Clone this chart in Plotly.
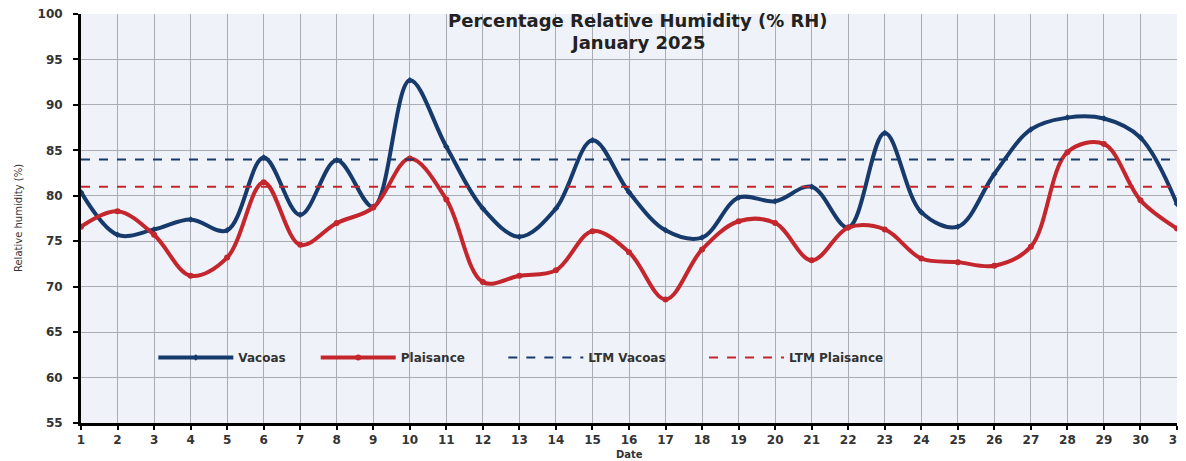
import plotly.graph_objects as go

days = list(range(1, 32))
vacoas = [80.4, 75.7, 76.3, 77.4, 76.2, 84.2, 77.9, 83.9, 78.8, 92.7,
          85.4, 78.6, 75.5, 78.6, 86.1, 80.4, 76.2, 75.4, 79.8, 79.4,
          81.0, 76.5, 86.9, 78.2, 76.6, 82.4, 87.3, 88.6, 88.5, 86.4, 79.1]
plaisance = [76.6, 78.3, 75.7, 71.2, 73.2, 81.5, 74.6, 77.0, 78.7, 84.1,
             79.6, 70.5, 71.2, 71.8, 76.1, 73.8, 68.6, 74.1, 77.2, 77.0,
             72.9, 76.5, 76.3, 73.1, 72.7, 72.3, 74.4, 84.8, 85.7, 79.5, 76.4]
ltm_vacoas = 84.0
ltm_plaisance = 81.0
series_names = ["Vacoas", "Plaisance", "LTM Vacoas", "LTM Plaisance"]
title_lines = ["Percentage Relative Humidity (% RH)", "January 2025"]

blue = "#173a6c"
red = "#c3262c"
font_fam = "DejaVu Sans, Verdana, sans-serif"
pad = "\u00a0"
legend_pad = [6, 8, 8, 0]

fig = go.Figure()
fig.add_trace(go.Scatter(x=days, y=vacoas, name=series_names[0] + pad * legend_pad[0], mode="lines+markers",
                         line=dict(color=blue, width=4, shape="spline", smoothing=1.0),
                         marker=dict(symbol="diamond", size=5, color=blue)))
fig.add_trace(go.Scatter(x=days, y=plaisance, name=series_names[1] + pad * legend_pad[1], mode="lines+markers",
                         line=dict(color=red, width=4, shape="spline", smoothing=1.0),
                         marker=dict(symbol="circle", size=6, color=red)))
fig.add_trace(go.Scatter(x=days, y=[ltm_vacoas] * len(days), name=series_names[2] + pad * legend_pad[2],
                         mode="lines", line=dict(color=blue, width=2, dash="dash")))
fig.add_trace(go.Scatter(x=days, y=[ltm_plaisance] * len(days), name=series_names[3] + pad * legend_pad[3],
                         mode="lines", line=dict(color=red, width=2, dash="dash")))

# page body has an 8px margin, so the figure is shrunk by 8px and margins reduced
fig.update_layout(
    width=1178, height=453,
    margin=dict(l=73, r=9, t=6, b=38, autoexpand=False),
    paper_bgcolor="white",
    plot_bgcolor="#eff3f9",
    font=dict(family=font_fam, color="#333333"),
    legend=dict(orientation="h", x=0.066, xanchor="left", y=0.16, yanchor="middle",
                bgcolor="rgba(0,0,0,0)", itemwidth=75,
                font=dict(size=12, color="#333333", weight="bold")),
    showlegend=True,
    annotations=[
        dict(text=title_lines[0], xref="paper", yref="paper", x=0.508, y=0.9853,
             xanchor="center", yanchor="middle", showarrow=False,
             font=dict(size=18, weight="bold", color="#222222")),
        dict(text=title_lines[1], xref="paper", yref="paper", x=0.508, y=0.9315,
             xanchor="center", yanchor="middle", showarrow=False,
             font=dict(size=18, weight="bold", color="#222222")),
        dict(text="Date", xref="paper", yref="paper", x=0.5, y=-0.078,
             xanchor="center", yanchor="middle", showarrow=False,
             font=dict(size=10, weight="bold", color="#333333")),
        dict(text="Relative humidity (%)", xref="paper", yref="paper", x=-0.057, y=0.5,
             xanchor="center", yanchor="middle", showarrow=False, textangle=-90,
             font=dict(size=10, color="#333333")),
    ],
)
fig.update_xaxes(range=[1, 31], tickmode="array", tickvals=days, ticktext=[str(d) for d in days],
                 showgrid=True, gridcolor="#a9adb3", gridwidth=1,
                 showline=True, linecolor="black", linewidth=3,
                 ticks="outside", ticklen=4, tickwidth=2, tickcolor="black",
                 ticklabeloverflow="allow",
                 tickfont=dict(size=12, weight="bold", color="#333333"),
                 automargin=False, zeroline=False)
fig.update_yaxes(range=[55, 100], dtick=5, tick0=55,
                 showgrid=True, gridcolor="#a9adb3", gridwidth=1,
                 showline=True, linecolor="black", linewidth=3,
                 ticks="outside", ticklen=5, tickwidth=2, tickcolor="black",
                 ticklabelstandoff=8, ticklabeloverflow="allow",
                 tickfont=dict(size=12, weight="bold", color="#333333"),
                 automargin=False, zeroline=False)

fig.write_html("out.html")
